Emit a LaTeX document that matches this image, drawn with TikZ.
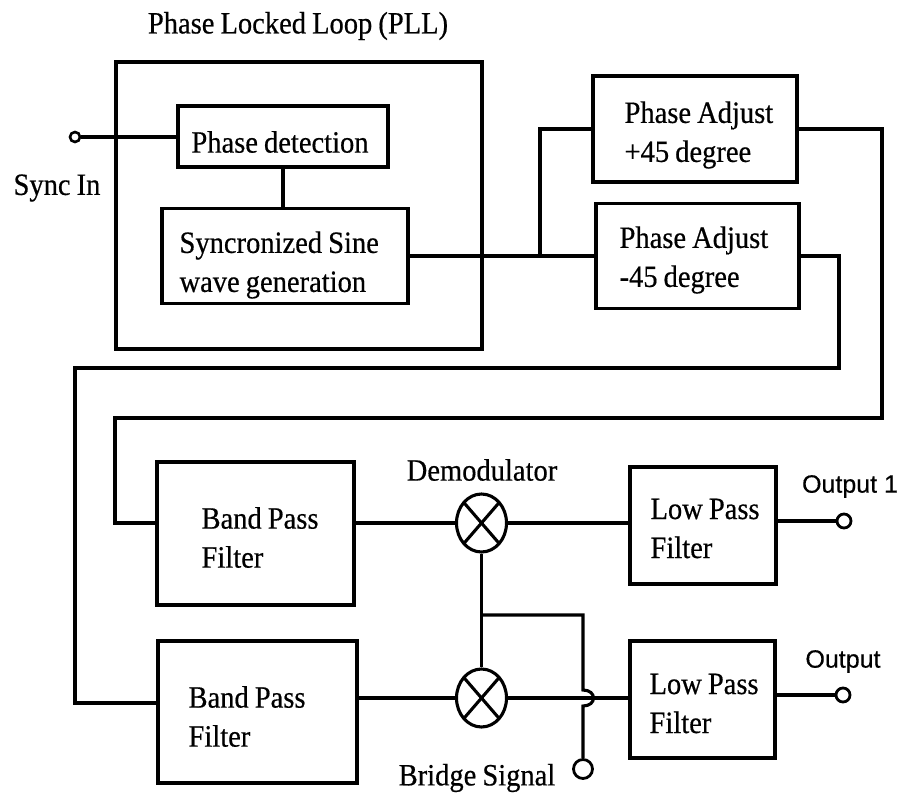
\documentclass[tikz,border=0pt]{standalone}
\usepackage{fontspec}
\setmainfont[FakeStretch=0.92,FakeBold=0.5,WordSpace=0.85]{Liberation Serif}
\newfontfamily\sansf[FakeBold=0.4]{Liberation Sans}
\usetikzlibrary{shapes.geometric,calc}
\begin{document}
\begin{tikzpicture}[x=1pt,y=-1pt,line width=3.1pt,
  box/.style={draw,rectangle,inner sep=0pt},
  lbl/.style={inner sep=0pt,font=\fontsize{31}{39}\selectfont},
  txt/.style={lbl,align=left,anchor=west},
  slbl/.style={inner sep=0pt,font=\sansf\fontsize{25}{28}\selectfont},
  mix/.style={draw,ellipse,minimum width=50pt,minimum height=58pt,inner sep=0pt},
  term/.style={draw,circle,inner sep=0pt}]
\useasboundingbox (0,0) rectangle (901,797);

% PLL
\node[box,minimum width=366pt,minimum height=287pt] (pll) at (299,205.5) {};
\node[lbl] (title) at (298,26) {Phase Locked Loop (PLL)};
\node[box,minimum width=210pt,minimum height=61pt] (pd) at (283,136.5) {};
\node[lbl] (pdt) at (280,142) {Phase detection};
\node[box,minimum width=246pt,minimum height=95pt] (sine) at (285,256) {};
\node[txt] (sinet) at (178,265) {Syncronized Sine\\wave generation};
\node[term,line width=2.6pt,minimum size=10pt] (sync) at (75,137) {};
\node[lbl] (synclbl) at (57,188) {Sync In};

% phase adjust
\node[box,minimum width=204pt,minimum height=106pt] (pa1) at (695,129) {};
\node[txt] (pa1t) at (623,135) {Phase Adjust\\+45 degree};
\node[box,minimum width=203pt,minimum height=105pt] (pa2) at (697.5,256) {};
\node[txt] (pa2t) at (618,260) {Phase Adjust\\-45 degree};

% filters
\node[box,minimum width=197pt,minimum height=143pt] (bpf1) at (255.5,533.5) {};
\node[txt] (bpf1t) at (200,537.5) {Band Pass\\Filter};
\node[box,minimum width=199pt,minimum height=142pt] (bpf2) at (257.5,712) {};
\node[txt] (bpf2t) at (187,716.5) {Band Pass\\Filter};
\node[box,minimum width=146pt,minimum height=117pt] (lpf1) at (703,525.5) {};
\node[txt] (lpf1t) at (649,528.5) {Low Pass\\Filter};
\node[box,minimum width=145pt,minimum height=117pt] (lpf2) at (702.5,699.5) {};
\node[txt] (lpf2t) at (648,703.5) {Low Pass\\Filter};

% mixers
\node[mix] (m1) at (481.5,523) {};
\node[mix] (m2) at (481.5,698) {};
\foreach \m in {m1,m2}{
  \draw ($(\m)+(-17.7,-20.5)$) -- ($(\m)+(17.7,20.5)$);
  \draw ($(\m)+(-17.7,20.5)$) -- ($(\m)+(17.7,-20.5)$);
}
\node[lbl] (demod) at (482,470) {Demodulator};

% terminals
\node[term,line width=2.8pt,minimum size=14pt] (o1) at (844,521) {};
\node[term,line width=2.8pt,minimum size=14pt] (o2) at (843,695) {};
\node[term,line width=2.8pt,minimum size=19pt] (bridge) at (583,769) {};
\node[slbl] (o1lbl) at (850,486.5) {Output 1};
\node[slbl] (o2lbl) at (843,661.5) {Output};
\node[lbl] (bridgelbl) at (477,778) {Bridge Signal};

% connectors
\draw (sync.east) -- (sync -| pd.west);
\draw (pd.south) -- (pd.south |- sine.north);
\draw (sine.east) -- (pa2.west);
\coordinate (j) at (540,256);
\draw (j) |- (pa1.west);

\coordinate (a1) at (882,418);
\coordinate (a2) at (115,418);
\draw (pa1.east) -| (a1) -- (a2) |- (bpf1.west |- m1);

\coordinate (b1) at (839,368);
\coordinate (b2) at (75,368);
\coordinate (b3) at (75,703);
\draw (pa2.east) -| (b1) -- (b2) -- (b3) -- (b3 -| bpf2.west);

\draw (bpf1.east |- m1) -- (m1.west);
\draw (m1.east) -- (lpf1.west |- m1);
\draw (lpf1.east |- o1) -- (o1.west);
\draw (bpf2.east |- m2) -- (m2.west);
\draw (m2.east) -- (lpf2.west |- m2);
\draw (lpf2.east |- o2) -- (o2.west);
\draw (m1.south) -- (m2.north);

\coordinate (k1) at (481.5,615);
\coordinate (k2) at (583,615);
\coordinate (h1) at (583,690);
\coordinate (h2) at (583,706);
\draw (k1) -- (k2) -- (h1) .. controls (597,690) and (597,706) .. (h2) -- (bridge.north);
\end{tikzpicture}
\end{document}
